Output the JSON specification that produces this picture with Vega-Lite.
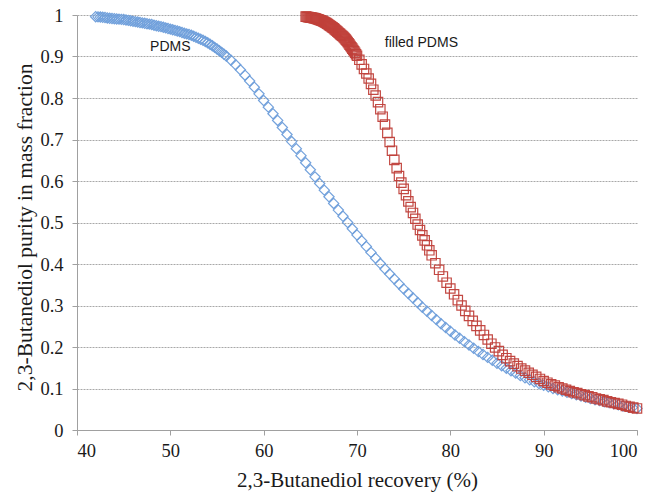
{
  "$schema": "https://vega.github.io/schema/vega-lite/v6.json",
  "width": 560,
  "height": 415,
  "autosize": {"type": "none"},
  "padding": {"left": 77, "top": 15, "right": 21, "bottom": 66},
  "background": "white",
  "config": {"view": {"stroke": null}},
  "datasets": {
    "labels": [
      {"label": "PDMS", "x": 50.0, "y": 0.922},
      {"label": "filled PDMS", "x": 76.9, "y": 0.932}
    ],
    "points": [
      {"series":"PDMS","x":42,"y":0.996},{"series":"PDMS","x":42.25,"y":0.9955},{"series":"PDMS","x":42.5,"y":0.995},{"series":"PDMS","x":42.75,"y":0.9945},
      {"series":"PDMS","x":43,"y":0.994},{"series":"PDMS","x":43.25,"y":0.993},{"series":"PDMS","x":43.5,"y":0.992},{"series":"PDMS","x":43.75,"y":0.9915},
      {"series":"PDMS","x":44,"y":0.991},{"series":"PDMS","x":44.25,"y":0.9905},{"series":"PDMS","x":44.5,"y":0.99},{"series":"PDMS","x":44.75,"y":0.9895},
      {"series":"PDMS","x":45,"y":0.989},{"series":"PDMS","x":45.25,"y":0.988},{"series":"PDMS","x":45.5,"y":0.987},{"series":"PDMS","x":45.75,"y":0.986},
      {"series":"PDMS","x":46,"y":0.985},{"series":"PDMS","x":46.25,"y":0.984},{"series":"PDMS","x":46.5,"y":0.983},{"series":"PDMS","x":46.75,"y":0.982},
      {"series":"PDMS","x":47,"y":0.981},{"series":"PDMS","x":47.25,"y":0.98},{"series":"PDMS","x":47.5,"y":0.979},{"series":"PDMS","x":47.75,"y":0.978},
      {"series":"PDMS","x":48,"y":0.977},{"series":"PDMS","x":48.25,"y":0.9755},{"series":"PDMS","x":48.5,"y":0.974},{"series":"PDMS","x":48.75,"y":0.973},
      {"series":"PDMS","x":49,"y":0.972},{"series":"PDMS","x":49.25,"y":0.9705},{"series":"PDMS","x":49.5,"y":0.969},{"series":"PDMS","x":49.75,"y":0.9675},
      {"series":"PDMS","x":50,"y":0.966},{"series":"PDMS","x":50.25,"y":0.9645},{"series":"PDMS","x":50.5,"y":0.963},{"series":"PDMS","x":50.75,"y":0.9615},
      {"series":"PDMS","x":51,"y":0.96},{"series":"PDMS","x":51.25,"y":0.958},{"series":"PDMS","x":51.5,"y":0.956},{"series":"PDMS","x":51.75,"y":0.9545},
      {"series":"PDMS","x":52,"y":0.953},{"series":"PDMS","x":52.25,"y":0.951},{"series":"PDMS","x":52.5,"y":0.949},{"series":"PDMS","x":52.75,"y":0.9465},
      {"series":"PDMS","x":53,"y":0.944},{"series":"PDMS","x":53.25,"y":0.9415},{"series":"PDMS","x":53.5,"y":0.939},{"series":"PDMS","x":53.75,"y":0.936},
      {"series":"PDMS","x":54,"y":0.933},{"series":"PDMS","x":54.25,"y":0.9295},{"series":"PDMS","x":54.5,"y":0.926},{"series":"PDMS","x":54.75,"y":0.922},
      {"series":"PDMS","x":55,"y":0.918},{"series":"PDMS","x":55.25,"y":0.914},{"series":"PDMS","x":55.5,"y":0.91},{"series":"PDMS","x":55.75,"y":0.9055},
      {"series":"PDMS","x":56,"y":0.901},{"series":"PDMS","x":56.5,"y":0.891},{"series":"PDMS","x":57,"y":0.88},{"series":"PDMS","x":57.5,"y":0.868},
      {"series":"PDMS","x":58,"y":0.855},{"series":"PDMS","x":58.5,"y":0.841},{"series":"PDMS","x":59,"y":0.826},{"series":"PDMS","x":59.5,"y":0.81},
      {"series":"PDMS","x":60,"y":0.794},{"series":"PDMS","x":60.5,"y":0.778},{"series":"PDMS","x":61,"y":0.762},{"series":"PDMS","x":61.5,"y":0.746},
      {"series":"PDMS","x":62,"y":0.729},{"series":"PDMS","x":62.5,"y":0.712},{"series":"PDMS","x":63,"y":0.695},{"series":"PDMS","x":63.5,"y":0.678},
      {"series":"PDMS","x":64,"y":0.661},{"series":"PDMS","x":64.5,"y":0.644},{"series":"PDMS","x":65,"y":0.627},{"series":"PDMS","x":65.5,"y":0.61},
      {"series":"PDMS","x":66,"y":0.594},{"series":"PDMS","x":66.5,"y":0.578},{"series":"PDMS","x":67,"y":0.562},{"series":"PDMS","x":67.5,"y":0.546},
      {"series":"PDMS","x":68,"y":0.53},{"series":"PDMS","x":68.5,"y":0.515},{"series":"PDMS","x":69,"y":0.5},{"series":"PDMS","x":69.5,"y":0.485},
      {"series":"PDMS","x":70,"y":0.47},{"series":"PDMS","x":70.5,"y":0.456},{"series":"PDMS","x":71,"y":0.442},{"series":"PDMS","x":71.5,"y":0.428},
      {"series":"PDMS","x":72,"y":0.414},{"series":"PDMS","x":72.5,"y":0.401},{"series":"PDMS","x":73,"y":0.388},{"series":"PDMS","x":73.5,"y":0.376},
      {"series":"PDMS","x":74,"y":0.364},{"series":"PDMS","x":74.5,"y":0.352},{"series":"PDMS","x":75,"y":0.34},{"series":"PDMS","x":75.5,"y":0.329},
      {"series":"PDMS","x":76,"y":0.318},{"series":"PDMS","x":76.5,"y":0.307},{"series":"PDMS","x":77,"y":0.296},{"series":"PDMS","x":77.5,"y":0.286},
      {"series":"PDMS","x":78,"y":0.276},{"series":"PDMS","x":78.5,"y":0.266},{"series":"PDMS","x":79,"y":0.256},{"series":"PDMS","x":79.5,"y":0.247},
      {"series":"PDMS","x":80,"y":0.238},{"series":"PDMS","x":80.5,"y":0.229},{"series":"PDMS","x":81,"y":0.221},{"series":"PDMS","x":81.5,"y":0.213},
      {"series":"PDMS","x":82,"y":0.205},{"series":"PDMS","x":82.5,"y":0.197},{"series":"PDMS","x":83,"y":0.189},{"series":"PDMS","x":83.5,"y":0.182},
      {"series":"PDMS","x":84,"y":0.175},{"series":"PDMS","x":84.5,"y":0.168},{"series":"PDMS","x":85,"y":0.161},{"series":"PDMS","x":85.5,"y":0.155},
      {"series":"PDMS","x":86,"y":0.149},{"series":"PDMS","x":86.5,"y":0.143},{"series":"PDMS","x":87,"y":0.137},{"series":"PDMS","x":87.5,"y":0.131},
      {"series":"PDMS","x":88,"y":0.126},{"series":"PDMS","x":88.5,"y":0.121},{"series":"PDMS","x":89,"y":0.116},{"series":"PDMS","x":89.5,"y":0.112},
      {"series":"PDMS","x":90,"y":0.108},{"series":"PDMS","x":90.5,"y":0.104},{"series":"PDMS","x":91,"y":0.1},{"series":"PDMS","x":91.5,"y":0.097},
      {"series":"PDMS","x":92,"y":0.094},{"series":"PDMS","x":92.5,"y":0.091},{"series":"PDMS","x":93,"y":0.088},{"series":"PDMS","x":93.5,"y":0.085},
      {"series":"PDMS","x":94,"y":0.082},{"series":"PDMS","x":94.5,"y":0.079},{"series":"PDMS","x":95,"y":0.076},{"series":"PDMS","x":95.5,"y":0.073},
      {"series":"PDMS","x":96,"y":0.071},{"series":"PDMS","x":96.5,"y":0.068},{"series":"PDMS","x":97,"y":0.066},{"series":"PDMS","x":97.5,"y":0.063},
      {"series":"PDMS","x":98,"y":0.061},{"series":"PDMS","x":98.5,"y":0.058},{"series":"PDMS","x":99,"y":0.056},{"series":"PDMS","x":99.5,"y":0.054},
      {"series":"PDMS","x":100,"y":0.052},
      {"series":"filled PDMS","x":64.5,"y":0.996},{"series":"filled PDMS","x":64.6,"y":0.9956},{"series":"filled PDMS","x":64.7,"y":0.9952},{"series":"filled PDMS","x":64.8,"y":0.9948},
      {"series":"filled PDMS","x":64.9,"y":0.9944},{"series":"filled PDMS","x":65,"y":0.994},{"series":"filled PDMS","x":65.1,"y":0.9936},{"series":"filled PDMS","x":65.2,"y":0.9932},
      {"series":"filled PDMS","x":65.3,"y":0.9928},{"series":"filled PDMS","x":65.4,"y":0.9924},{"series":"filled PDMS","x":65.5,"y":0.992},{"series":"filled PDMS","x":65.6,"y":0.9912},
      {"series":"filled PDMS","x":65.7,"y":0.9904},{"series":"filled PDMS","x":65.8,"y":0.9896},{"series":"filled PDMS","x":65.9,"y":0.9888},{"series":"filled PDMS","x":66,"y":0.988},
      {"series":"filled PDMS","x":66.1,"y":0.9872},{"series":"filled PDMS","x":66.2,"y":0.9864},{"series":"filled PDMS","x":66.3,"y":0.9854},{"series":"filled PDMS","x":66.4,"y":0.9842},
      {"series":"filled PDMS","x":66.5,"y":0.983},{"series":"filled PDMS","x":66.6,"y":0.9818},{"series":"filled PDMS","x":66.7,"y":0.9806},{"series":"filled PDMS","x":66.8,"y":0.9792},
      {"series":"filled PDMS","x":66.9,"y":0.9776},{"series":"filled PDMS","x":67,"y":0.976},{"series":"filled PDMS","x":67.1,"y":0.9744},{"series":"filled PDMS","x":67.2,"y":0.9728},
      {"series":"filled PDMS","x":67.3,"y":0.9712},{"series":"filled PDMS","x":67.4,"y":0.9696},{"series":"filled PDMS","x":67.5,"y":0.968},{"series":"filled PDMS","x":67.6,"y":0.966},
      {"series":"filled PDMS","x":67.7,"y":0.964},{"series":"filled PDMS","x":67.8,"y":0.962},{"series":"filled PDMS","x":67.9,"y":0.96},{"series":"filled PDMS","x":68,"y":0.958},
      {"series":"filled PDMS","x":68.1,"y":0.956},{"series":"filled PDMS","x":68.2,"y":0.954},{"series":"filled PDMS","x":68.3,"y":0.952},{"series":"filled PDMS","x":68.4,"y":0.95},
      {"series":"filled PDMS","x":68.5,"y":0.948},{"series":"filled PDMS","x":68.6,"y":0.9456},{"series":"filled PDMS","x":68.7,"y":0.9432},{"series":"filled PDMS","x":68.8,"y":0.9406},
      {"series":"filled PDMS","x":68.9,"y":0.9378},{"series":"filled PDMS","x":69,"y":0.935},{"series":"filled PDMS","x":69.1,"y":0.9318},{"series":"filled PDMS","x":69.2,"y":0.9286},
      {"series":"filled PDMS","x":69.3,"y":0.9254},{"series":"filled PDMS","x":69.4,"y":0.9222},{"series":"filled PDMS","x":69.5,"y":0.919},{"series":"filled PDMS","x":69.6,"y":0.9158},
      {"series":"filled PDMS","x":69.7,"y":0.9126},{"series":"filled PDMS","x":69.8,"y":0.9092},{"series":"filled PDMS","x":69.9,"y":0.9056},{"series":"filled PDMS","x":70,"y":0.902},
      {"series":"filled PDMS","x":70.25,"y":0.892},{"series":"filled PDMS","x":70.5,"y":0.881},{"series":"filled PDMS","x":70.75,"y":0.87},{"series":"filled PDMS","x":71,"y":0.859},
      {"series":"filled PDMS","x":71.25,"y":0.847},{"series":"filled PDMS","x":71.5,"y":0.834},{"series":"filled PDMS","x":71.75,"y":0.82},{"series":"filled PDMS","x":72,"y":0.806},
      {"series":"filled PDMS","x":72.25,"y":0.79},{"series":"filled PDMS","x":72.5,"y":0.773},{"series":"filled PDMS","x":72.75,"y":0.755},{"series":"filled PDMS","x":73,"y":0.736},
      {"series":"filled PDMS","x":73.25,"y":0.716},{"series":"filled PDMS","x":73.5,"y":0.694},{"series":"filled PDMS","x":73.75,"y":0.673},{"series":"filled PDMS","x":74,"y":0.651},
      {"series":"filled PDMS","x":74.25,"y":0.631},{"series":"filled PDMS","x":74.5,"y":0.612},{"series":"filled PDMS","x":74.75,"y":0.596},{"series":"filled PDMS","x":75,"y":0.581},
      {"series":"filled PDMS","x":75.25,"y":0.566},{"series":"filled PDMS","x":75.5,"y":0.551},{"series":"filled PDMS","x":75.75,"y":0.537},{"series":"filled PDMS","x":76,"y":0.523},
      {"series":"filled PDMS","x":76.25,"y":0.509},{"series":"filled PDMS","x":76.5,"y":0.495},{"series":"filled PDMS","x":76.75,"y":0.482},{"series":"filled PDMS","x":77,"y":0.469},
      {"series":"filled PDMS","x":77.25,"y":0.457},{"series":"filled PDMS","x":77.5,"y":0.445},{"series":"filled PDMS","x":77.75,"y":0.433},{"series":"filled PDMS","x":78,"y":0.421},
      {"series":"filled PDMS","x":78.4,"y":0.402},{"series":"filled PDMS","x":78.8,"y":0.386},{"series":"filled PDMS","x":79.2,"y":0.37},{"series":"filled PDMS","x":79.6,"y":0.355},
      {"series":"filled PDMS","x":80,"y":0.341},{"series":"filled PDMS","x":80.4,"y":0.327},{"series":"filled PDMS","x":80.8,"y":0.313},{"series":"filled PDMS","x":81.2,"y":0.3},
      {"series":"filled PDMS","x":81.6,"y":0.287},{"series":"filled PDMS","x":82,"y":0.275},{"series":"filled PDMS","x":82.4,"y":0.263},{"series":"filled PDMS","x":82.8,"y":0.251},
      {"series":"filled PDMS","x":83.2,"y":0.24},{"series":"filled PDMS","x":83.6,"y":0.229},{"series":"filled PDMS","x":84,"y":0.218},{"series":"filled PDMS","x":84.4,"y":0.208},
      {"series":"filled PDMS","x":84.8,"y":0.199},{"series":"filled PDMS","x":85.2,"y":0.19},{"series":"filled PDMS","x":85.6,"y":0.181},{"series":"filled PDMS","x":86,"y":0.173},
      {"series":"filled PDMS","x":86.4,"y":0.166},{"series":"filled PDMS","x":86.8,"y":0.16},{"series":"filled PDMS","x":87.2,"y":0.154},{"series":"filled PDMS","x":87.6,"y":0.148},
      {"series":"filled PDMS","x":88,"y":0.143},{"series":"filled PDMS","x":88.4,"y":0.138},{"series":"filled PDMS","x":88.8,"y":0.133},{"series":"filled PDMS","x":89.2,"y":0.128},
      {"series":"filled PDMS","x":89.6,"y":0.123},{"series":"filled PDMS","x":90,"y":0.118},{"series":"filled PDMS","x":90.4,"y":0.114},{"series":"filled PDMS","x":90.8,"y":0.11},
      {"series":"filled PDMS","x":91.2,"y":0.107},{"series":"filled PDMS","x":91.6,"y":0.103},{"series":"filled PDMS","x":92,"y":0.1},{"series":"filled PDMS","x":92.4,"y":0.097},
      {"series":"filled PDMS","x":92.8,"y":0.094},{"series":"filled PDMS","x":93.2,"y":0.091},{"series":"filled PDMS","x":93.6,"y":0.089},{"series":"filled PDMS","x":94,"y":0.086},
      {"series":"filled PDMS","x":94.4,"y":0.084},{"series":"filled PDMS","x":94.8,"y":0.081},{"series":"filled PDMS","x":95.2,"y":0.079},{"series":"filled PDMS","x":95.6,"y":0.076},
      {"series":"filled PDMS","x":96,"y":0.074},{"series":"filled PDMS","x":96.4,"y":0.072},{"series":"filled PDMS","x":96.8,"y":0.069},{"series":"filled PDMS","x":97.2,"y":0.067},
      {"series":"filled PDMS","x":97.6,"y":0.065},{"series":"filled PDMS","x":98,"y":0.063},{"series":"filled PDMS","x":98.4,"y":0.061},{"series":"filled PDMS","x":98.8,"y":0.058},
      {"series":"filled PDMS","x":99.2,"y":0.056},{"series":"filled PDMS","x":99.6,"y":0.054},{"series":"filled PDMS","x":100,"y":0.052}
    ]
  },
  "layer": [
    {
      "data": {"name": "points"},
      "mark": {"type": "point", "filled": false, "strokeWidth": 1.2, "opacity": 0.95},
      "encoding": {
        "x": {
          "field": "x", "type": "quantitative",
          "scale": {"domain": [40, 100], "nice": false, "zero": false},
          "axis": {
            "values": [40, 50, 60, 70, 80, 90, 100],
            "grid": false,
            "domainColor": "#a0a0a0", "tickColor": "#a0a0a0", "tickSize": 5,
            "labelFont": "Liberation Serif", "labelFontSize": 18.5, "labelColor": "#1a1a1a", "labelPadding": 6,
            "title": "2,3-Butanediol recovery (%)",
            "titleFont": "Liberation Serif", "titleFontSize": 21, "titleFontWeight": "normal", "titleColor": "#1a1a1a",
            "titleY": 50, "titleBaseline": "middle"
          }
        },
        "y": {
          "field": "y", "type": "quantitative",
          "scale": {"domain": [0, 1], "nice": false, "zero": false},
          "axis": {
            "values": [0, 0.1, 0.2, 0.3, 0.4, 0.5, 0.6, 0.7, 0.8, 0.9, 1],
            "format": "~g",
            "grid": true, "gridColor": "#a8a8a8", "gridDash": [2, 1], "gridWidth": 1,
            "domainColor": "#a0a0a0", "tickColor": "#a0a0a0", "tickSize": 5,
            "labelFont": "Liberation Serif", "labelFontSize": 18.5, "labelColor": "#1a1a1a", "labelPadding": 9,
            "title": "2,3-Butanediol purity in mass fraction",
            "titleFont": "Liberation Serif", "titleFontSize": 21.5, "titleFontWeight": "normal", "titleColor": "#1a1a1a",
            "titleX": -52, "titleY": 212, "titleAlign": "center", "titleBaseline": "middle", "titleAngle": -90
          }
        },
        "color": {
          "field": "series", "type": "nominal",
          "scale": {"domain": ["PDMS", "filled PDMS"], "range": ["#6d9edb", "#c0403a"]},
          "legend": null
        },
        "shape": {
          "field": "series", "type": "nominal",
          "scale": {"domain": ["PDMS", "filled PDMS"], "range": ["diamond", "square"]},
          "legend": null
        },
        "size": {
          "field": "series", "type": "nominal",
          "scale": {"domain": ["PDMS", "filled PDMS"], "range": [105, 88]},
          "legend": null
        }
      }
    },
    {
      "data": {"name": "labels"},
      "mark": {"type": "text", "font": "Liberation Sans", "fontSize": 14, "color": "#1a1a1a", "align": "center", "baseline": "middle"},
      "encoding": {
        "x": {"field": "x", "type": "quantitative"},
        "y": {"field": "y", "type": "quantitative"},
        "text": {"field": "label"}
      }
    }
  ]
}
